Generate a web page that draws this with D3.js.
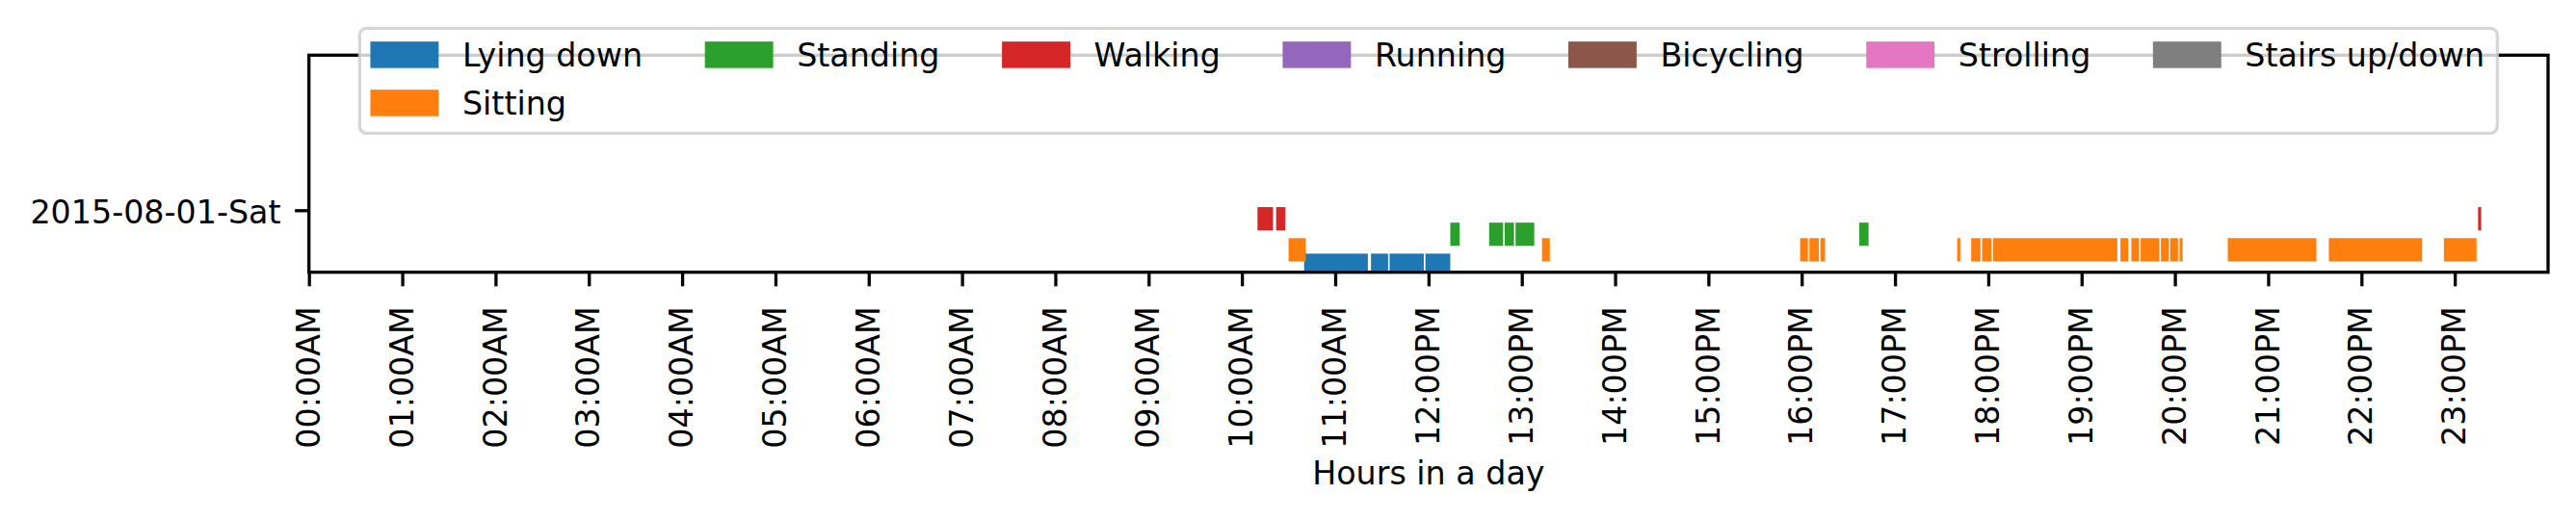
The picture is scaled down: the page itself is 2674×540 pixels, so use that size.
<!DOCTYPE html>
<html>
<head>
<meta charset="utf-8">
<script src="https://cdn.jsdelivr.net/npm/d3@7"></script>
<style>
  body { margin: 0; background: white; }
  text { font-family: "DejaVu Sans", sans-serif; }
</style>
</head>
<body>
<script>
// activity names + colours (legend order)
let activities = ['Lying down', 'Sitting', 'Standing', 'Walking', 'Running', 'Bicycling', 'Strolling', 'Stairs up/down']
let colors = ['#1f77b4', '#ff7f0e', '#2ca02c', '#d62728', '#9467bd', '#8c564b', '#e377c2', '#7f7f7f']
let dayLabels = ['2015-08-01-Sat']

// [start, end] of every recorded segment, per activity
let lyingDown = [['10:40', '11:21'], ['11:23', '11:34'], ['11:35', '11:57'], ['11:58', '12:14']]
let sitting = [
  ['10:30', '10:41'], ['13:13', '13:18'], ['15:59', '16:04'], ['16:05', '16:11'], ['16:12', '16:15'],
  ['17:40', '17:42'], ['17:49', '17:55'], ['17:56', '18:02'], ['18:03', '19:23'], ['19:25', '19:30'],
  ['19:32', '19:37'], ['19:38', '19:50'], ['19:51', '19:56'], ['19:57', '20:02'], ['20:03', '20:05'],
  ['20:34', '21:31'], ['21:39', '22:39'], ['22:53', '23:14']
]
let standing = [['12:14', '12:20'], ['12:39', '12:48'], ['12:49', '12:55'], ['12:56', '13:08'], ['16:37', '16:43']]
let walking = [['10:10', '10:20'], ['10:22', '10:28'], ['23:15', '23:17']]
let running = []
let bicycling = []
let strolling = []
let stairs = []
let segments = [lyingDown, sitting, standing, walking, running, bicycling, strolling, stairs]

let
  width = 2674,
  height = 540;

let margin = {
  top: 57.3,
  bottom: 257.3,
  left: 320.7,
  right: 29
}

let fs = 33.3
let parse = d3.timeParse('%Y-%m-%d %H:%M')
let dayStart = parse('2015-08-01 00:00'),
    dayEnd = parse('2015-08-02 00:00')
let t = s => parse('2015-08-01 ' + s)

let svg = d3.select('body')
            .append('svg')
            .attr('width', width)
            .attr('height', height)
            .style('background', 'white')

let xScale = d3.scaleTime()
              .domain([dayStart, dayEnd])
              .range([margin.left, width - margin.right])

let yScale = d3.scaleLinear()
              .domain([-0.4, 1.0])
              .range([height - margin.bottom, margin.top])

svg.append('clipPath')
    .attr('id', 'plot')
  .append('rect')
    .attr('x', margin.left)
    .attr('y', margin.top)
    .attr('width', width - margin.left - margin.right)
    .attr('height', height - margin.top - margin.bottom)

// one row of bars per activity, stacked 0.1 apart under the day tick
let bars = svg.append('g').attr('clip-path', 'url(#plot)')
activities.forEach((name, k) => {
  let top = -0.28 + 0.1 * k, bottom = -0.43 + 0.1 * k
  bars.selectAll(null)
      .data(segments[k])
      .enter()
      .append('rect')
      .attr('x', d => xScale(t(d[0])))
      .attr('width', d => xScale(t(d[1])) - xScale(t(d[0])))
      .attr('y', yScale(top))
      .attr('height', yScale(bottom) - yScale(top))
      .attr('fill', colors[k])
})

let hourTicks = xScale.ticks(d3.timeHour.every(1)).filter(d => d < dayEnd)

let xAxis = svg.append('g')
            .attr('transform', `translate(0, ${height - margin.bottom})`)
            .call(d3.axisBottom(xScale)
                    .tickValues(hourTicks)
                    .tickFormat(d3.timeFormat('%H:%M%p'))
                    .tickSize(14.6)
                    .tickSizeOuter(0))
xAxis.select('.domain').remove()
xAxis.selectAll('line').attr('stroke-width', 3.3)
xAxis.selectAll('text')
      .attr('font-size', fs)
      .attr('font-family', 'DejaVu Sans')
      .attr('fill', 'black')
      .attr('transform', 'rotate(-90)')
      .attr('text-anchor', 'end')
      .attr('x', -35.5)
      .attr('y', 0)
      .attr('dy', '0.32em')

let yAxis = svg.append('g')
            .attr('transform', `translate(${margin.left}, 0)`)
            .call(d3.axisLeft(yScale)
                    .tickValues([0])
                    .tickFormat((d, i) => dayLabels[i])
                    .tickSize(14.6)
                    .tickPadding(14.6)
                    .tickSizeOuter(0))
yAxis.select('.domain').remove()
yAxis.selectAll('line').attr('stroke-width', 3.3)
yAxis.selectAll('text')
      .attr('font-size', fs)
      .attr('font-family', 'DejaVu Sans')
      .attr('fill', 'black')
      .attr('dy', '0.4em')

// spines
svg.append('rect')
    .attr('x', margin.left)
    .attr('y', margin.top)
    .attr('width', width - margin.left - margin.right)
    .attr('height', height - margin.top - margin.bottom)
    .attr('fill', 'none')
    .attr('stroke', 'black')
    .attr('stroke-width', 3.3)

svg.append('text')
    .attr('x', (margin.left + width - margin.right) / 2)
    .attr('y', 503)
    .attr('font-size', fs)
    .style('text-anchor', 'middle')
    .text('Hours in a day')

// legend: 7 columns, filled column first like matplotlib
let ncol = 7
let cols = [[0, 1], [2], [3], [4], [5], [6], [7]]
let handleW = 66.7, handleH = 23.3, textPad = 26.7, colGap = 66.7, pad = 13.2
let legTop = 29.3, legH = 109, rowStep = 50, firstRow = legTop + 27.6

let legend = svg.append('g')
let frame = legend.append('rect')
let labels = activities.map(name => legend.append('text')
                                          .attr('font-size', fs)
                                          .text(name))
let colW = cols.map(c => handleW + textPad + d3.max(c, i => labels[i].node().getComputedTextLength()))
let legW = 2 * pad + d3.sum(colW) + (ncol - 1) * colGap
let legLeft = (margin.left + width - margin.right) / 2 - legW / 2

frame.attr('x', legLeft)
    .attr('y', legTop)
    .attr('width', legW)
    .attr('height', legH)
    .attr('rx', 7)
    .attr('fill', 'white')
    .attr('fill-opacity', 0.8)
    .attr('stroke', '#cccccc')
    .attr('stroke-opacity', 0.8)
    .attr('stroke-width', 3.3)

let cx = legLeft + pad
cols.forEach((c, j) => {
  c.forEach((i, r) => {
    let cy = firstRow + r * rowStep
    legend.append('rect')
          .attr('x', cx)
          .attr('y', cy - handleH / 2)
          .attr('width', handleW)
          .attr('height', handleH)
          .attr('fill', colors[i])
          .attr('stroke', colors[i])
          .attr('stroke-width', 4.2)
    labels[i].attr('x', cx + handleW + textPad)
             .attr('y', cy)
             .attr('dy', '0.36em')
  })
  cx += colW[j] + colGap
})
</script>
</body>
</html>
